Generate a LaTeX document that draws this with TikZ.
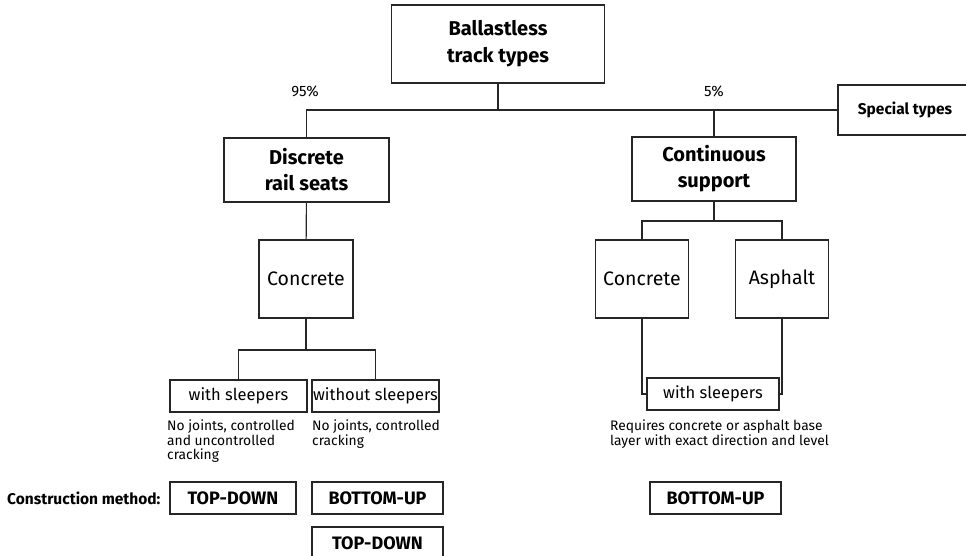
\documentclass[tikz,border=0pt]{standalone}
\usepackage{fontspec}
\setmainfont{Fira Sans}
\usetikzlibrary{positioning}
\tikzset{
	box/.style={draw=black!85, line width=1.1pt, align=center, inner sep=0pt},
	link/.style={draw=black!85, line width=1.1pt},
	note/.style={align=left, inner sep=0pt, anchor=north west, font=\fontsize{13.8}{14.2}\selectfont}
}
\begin{document}
\begin{tikzpicture}[x=1pt,y=-1pt]
	\useasboundingbox (0,0) rectangle (966,556);
	%\draw[lightgray] (0,0) grid[step=50] (966,556);
	\node[box, minimum width=213, minimum height=78, font=\fontsize{20}{27}\selectfont\bfseries] (root) at (498,44) {Ballastless\\track types};
	\node[box, minimum width=140, minimum height=50, font=\fontsize{15.5}{18}\selectfont\bfseries] (special) at (908,110) {Special types\hspace*{6pt}};
	\node[font=\fontsize{15}{18}\selectfont] (pa) at (305,91) {95\%};
	\node[font=\fontsize{15}{18}\selectfont] (pb) at (714,91) {5\%};

	\node[box, minimum width=165, minimum height=64, font=\fontsize{20}{26}\selectfont\bfseries] (discrete) at (306.5,170) {Discrete\\rail seats};
	\node[box, minimum width=164, minimum height=64, font=\fontsize{20}{26}\selectfont\bfseries] (continuous) at (714,169) {Continuous\\support};

	\node[box, minimum width=94, minimum height=78, font=\fontsize{19.5}{22}\selectfont] (concA) at (306,279) {Concrete};
	\node[box, minimum width=93, minimum height=78, font=\fontsize{19.5}{22}\selectfont] (concB) at (642,279) {Concrete};
	\node[box, minimum width=93, minimum height=78, font=\fontsize{19.5}{22}\selectfont] (asph) at (782,279) {Asphalt};

	\node[box, minimum width=137, minimum height=32, font=\fontsize{16.5}{18}\selectfont] (withA) at (238.5,396) {with sleepers};
	\node[box, minimum width=127, minimum height=32, font=\fontsize{16.5}{18}\selectfont] (without) at (375.5,396) {without sleepers};
	\node[box, minimum width=132, minimum height=32, font=\fontsize{16.5}{18}\selectfont] (withB) at (713,394) {with sleepers};

	\node[note] (noteA) at (167,420) {No joints, controlled\\and uncontrolled\\cracking};
	\node[note] (noteB) at (312,420) {No joints, controlled\\cracking};
	\node[note] (noteC) at (610,420) {Requires concrete or asphalt base\\layer with exact direction and level};

	\node[anchor=west, inner sep=0pt, font=\fontsize{15.5}{18}\selectfont\bfseries] (method) at (7,498) {Construction method:};
	\node[box, minimum width=126, minimum height=32, font=\fontsize{18}{20}\selectfont\bfseries] (tdA) at (233,498) {TOP-DOWN};
	\node[box, minimum width=131, minimum height=32, font=\fontsize{18}{20}\selectfont\bfseries] (buA) at (377.5,498) {BOTTOM-UP};
	\node[box, minimum width=131, minimum height=32, font=\fontsize{18}{20}\selectfont\bfseries] (tdB) at (377.5,543) {TOP-DOWN};
	\node[box, minimum width=131, minimum height=32, font=\fontsize{18}{20}\selectfont\bfseries] (buB) at (715.5,498) {BOTTOM-UP};

	% tree
	\coordinate (splitA) at (306,350);
	\coordinate (splitB) at (714,221);
	\draw[link] (root.south) -- (root.south |- special.west);
	\draw[link] (discrete.north) |- (special.west);
	\draw[link] (continuous.north) -- (continuous.north |- special.west);
	\draw[link] (discrete) -- (concA);
	\draw[link] (concA.south) -- (splitA);
	\draw[link] (withA.north) |- (splitA) -| (without.north);
	\draw[link] (continuous.south) -- (splitB);
	\draw[link] (concB.north) |- (splitB) -| (asph.north);
	\draw[link] (concB.south) |- (withB.west);
	\draw[link] (asph.south) |- (withB.east);
\end{tikzpicture}
\end{document}
